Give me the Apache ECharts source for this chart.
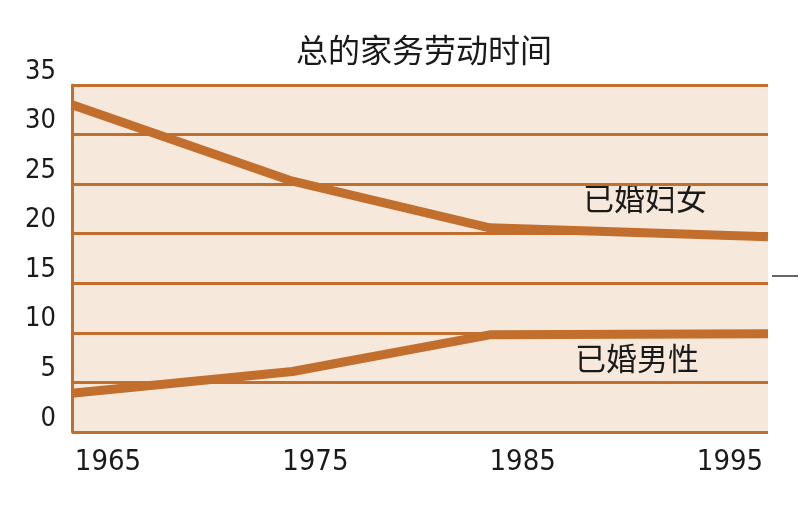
<!DOCTYPE html>
<html>
<head>
<meta charset="utf-8">
<script src="https://cdn.jsdelivr.net/npm/echarts@6/dist/echarts.min.js"></script>
<style>
  html, body { margin: 0; padding: 0; background: #fff; }
  #chart { width: 800px; height: 523px; }
</style>
</head>
<body>
<div id="chart"></div>
<script>
// 数据
var yearLabels = ['1965', '1975', '1985', '1995'];
var years = [1965, 1974.5, 1983, 1995];          // 折点位置
var women = [33.0, 25.3, 20.6, 19.7];             // 已婚妇女
var men = [3.9, 6.1, 9.8, 9.9];                   // 已婚男性
var yTicks = [0, 5, 10, 15, 20, 25, 30, 35];

var brown = '#c26f2e';

var myChart = echarts.init(document.getElementById('chart'));

function pairs(xs, ys) {
  return xs.map(function (x, i) { return [x, ys[i]]; });
}

var option = {
  backgroundColor: '#ffffff',
  animation: false,
  title: {
    text: '总的家务劳动时间',
    left: 419,
    top: 29,
    textAlign: 'center',
    textStyle: {
      fontFamily: 'Noto Sans CJK SC',
      fontWeight: 'normal',
      fontSize: 32,
      color: '#1a1a1a'
    }
  },
  grid: [
    { // 主绘图区
      left: 72, right: 32, top: 85, bottom: 91,
      show: true,
      backgroundColor: '#f6e9dc',
      borderWidth: 0
    },
    { // 年份标签
      left: 108, right: 70, top: 85, bottom: 91,
      show: false
    }
  ],
  xAxis: [
    {
      gridIndex: 0,
      type: 'value',
      min: 1965,
      max: 1995,
      axisLine: { show: false },
      axisTick: { show: false },
      axisLabel: { show: false },
      splitLine: { show: false }
    },
    {
      gridIndex: 1,
      type: 'category',
      boundaryGap: false,
      data: yearLabels,
      axisLine: { show: false },
      axisTick: { show: false },
      axisLabel: {
        margin: 16,
        fontFamily: 'Liberation Sans Narrow, DejaVu Sans Condensed, sans-serif',
        fontSize: 29,
        color: '#1a1a1a'
      },
      splitLine: { show: false }
    }
  ],
  yAxis: [
    {
      gridIndex: 0,
      type: 'value',
      min: 0,
      max: 35,
      interval: 5,
      axisLine: { show: true, lineStyle: { color: brown, width: 3 } },
      axisTick: { show: false },
      axisLabel: {
        margin: 16,
        verticalAlign: 'bottom',
        fontFamily: 'Liberation Sans Narrow, DejaVu Sans Condensed, sans-serif',
        fontSize: 27,
        color: '#1a1a1a',
        formatter: function (v) { return yTicks.indexOf(v) >= 0 ? String(v) : ''; }
      },
      splitLine: { show: true, lineStyle: { color: brown, width: 3 } }
    },
    {
      gridIndex: 1,
      type: 'value',
      min: 0,
      max: 35,
      show: false
    }
  ],
  series: [
    {
      name: '已婚妇女',
      type: 'line',
      xAxisIndex: 0,
      yAxisIndex: 0,
      data: pairs(years, women),
      showSymbol: false,
      lineStyle: { color: brown, width: 9, cap: 'butt', join: 'round' }
    },
    {
      name: '已婚男性',
      type: 'line',
      xAxisIndex: 0,
      yAxisIndex: 0,
      data: pairs(years, men),
      showSymbol: false,
      lineStyle: { color: brown, width: 9, cap: 'butt', join: 'round' }
    }
  ],
  graphic: [
    {
      type: 'text',
      left: 583, top: 183,
      style: { text: '已婚妇女', font: '31px "Noto Sans CJK SC"', fill: '#1a1a1a' }
    },
    {
      type: 'text',
      left: 575, top: 343,
      style: { text: '已婚男性', font: '31px "Noto Sans CJK SC"', fill: '#1a1a1a' }
    },
    {
      type: 'line',
      shape: { x1: 772, y1: 276, x2: 798, y2: 276 },
      style: { stroke: '#666', lineWidth: 2 }
    }
  ]
};

myChart.setOption(option);
</script>
</body>
</html>
